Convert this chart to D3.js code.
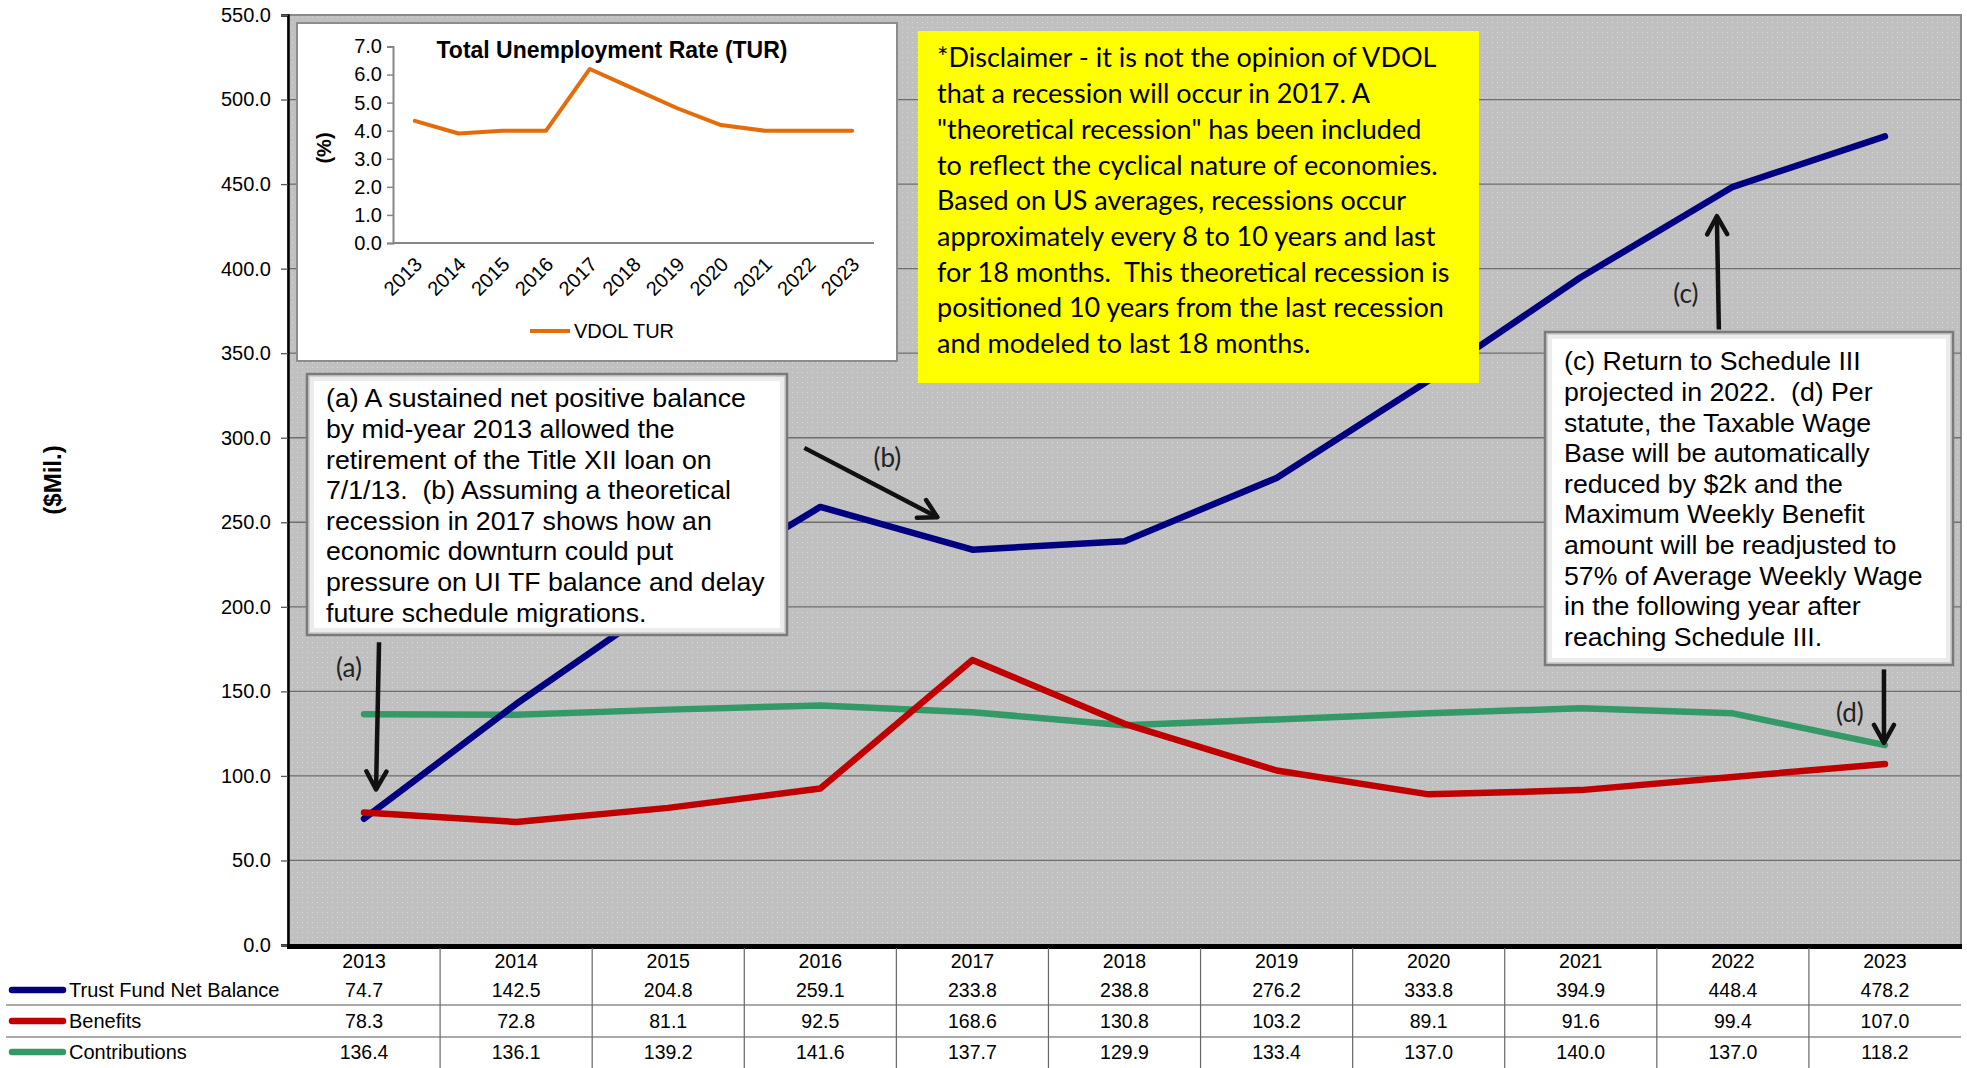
<!DOCTYPE html>
<html>
<head>
<meta charset="utf-8">
<script src="https://cdn.jsdelivr.net/npm/d3@7"></script>
<style>
  body { margin: 0; background: #fff; }
  svg text { font-family: "Liberation Sans", Arial, sans-serif; }
</style>
</head>
<body>
<div class="svg-container"></div>
<script>
// data
var years = ["2013","2014","2015","2016","2017","2018","2019","2020","2021","2022","2023"];
var trustFund = [74.7, 142.5, 204.8, 259.1, 233.8, 238.8, 276.2, 333.8, 394.9, 448.4, 478.2];
var benefits = [78.3, 72.8, 81.1, 92.5, 168.6, 130.8, 103.2, 89.1, 91.6, 99.4, 107.0];
var contributions = [136.4, 136.1, 139.2, 141.6, 137.7, 129.9, 133.4, 137.0, 140.0, 137.0, 118.2];
var turValues = [4.35, 3.9, 4.0, 4.0, 6.2, 5.5, 4.8, 4.2, 4.0, 4.0, 4.0];
var yTicks = d3.range(0, 551, 50);
var turTicks = d3.range(0, 7.1, 1);

var seriesNames = ["Trust Fund Net Balance", "Benefits", "Contributions"];
var seriesColors = ["#000080", "#C00000", "#339966"];

var disclaimerLines = [
  "*Disclaimer - it is not the opinion of VDOL",
  "that a recession will occur in 2017. A",
  "\"theoretical recession\" has been included",
  "to reflect the cyclical nature of economies.",
  "Based on US averages, recessions occur",
  "approximately every 8 to 10 years and last",
  "for 18 months.  This theoretical recession is",
  "positioned 10 years from the last recession",
  "and modeled to last 18 months."
];
var noteALines = [
  "(a) A sustained net positive balance",
  "by mid-year 2013 allowed the",
  "retirement of the Title XII loan on",
  "7/1/13.  (b) Assuming a theoretical",
  "recession in 2017 shows how an",
  "economic downturn could put",
  "pressure on UI TF balance and delay",
  "future schedule migrations."
];
var noteCLines = [
  "(c) Return to Schedule III",
  "projected in 2022.  (d) Per",
  "statute, the Taxable Wage",
  "Base will be automatically",
  "reduced by $2k and the",
  "Maximum Weekly Benefit",
  "amount will be readjusted to",
  "57% of Average Weekly Wage",
  "in the following year after",
  "reaching Schedule III."
];

var width = 1967, height = 1068;
var plotLeft = 288, plotRight = 1961, plotTop = 15, plotBottom = 945;

var svg = d3.select(".svg-container").append("svg")
  .attr("width", width)
  .attr("height", height);

var defs = svg.append("defs");
var pat = defs.append("pattern")
  .attr("id", "dots")
  .attr("width", 5).attr("height", 5)
  .attr("patternUnits", "userSpaceOnUse");
pat.append("rect").attr("width", 5).attr("height", 5).attr("fill", "#c0c0c0");
pat.append("rect").attr("x", 2).attr("y", 2).attr("width", 1).attr("height", 1).attr("fill", "#dadada");

defs.append("marker")
  .attr("id", "head")
  .attr("viewBox", "0 0 26 26")
  .attr("refX", 23).attr("refY", 13)
  .attr("markerWidth", 26).attr("markerHeight", 26)
  .attr("markerUnits", "userSpaceOnUse")
  .attr("orient", "auto")
  .append("path")
  .attr("d", "M5,3 L23,13 L5,23")
  .attr("fill", "none")
  .attr("stroke", "#111")
  .attr("stroke-width", 4.5)
  .attr("stroke-linecap", "round")
  .attr("stroke-linejoin", "round");

// scales
var x = d3.scaleBand().domain(years).range([plotLeft, plotRight]);
var xc = function(yr) { return x(yr) + x.bandwidth() / 2; };
var y = d3.scaleLinear().domain([0, 550]).range([plotBottom, plotTop]);

// plot background
svg.append("rect")
  .attr("x", plotLeft).attr("y", plotTop)
  .attr("width", plotRight - plotLeft).attr("height", plotBottom - plotTop)
  .attr("fill", "url(#dots)")
  .attr("stroke", "#8a8a8a")
  .attr("stroke-width", 2);

// gridlines
svg.append("g")
  .selectAll("line")
  .data(yTicks.filter(function(d) { return d > 0 && d < 550; }))
  .enter().append("line")
  .attr("x1", plotLeft).attr("x2", plotRight)
  .attr("y1", function(d) { return y(d); })
  .attr("y2", function(d) { return y(d); })
  .attr("stroke", "#6e6e6e")
  .attr("stroke-width", 1.3);

// Y axis
var yAxis = svg.append("g")
  .attr("transform", "translate(" + plotLeft + ",0)")
  .call(d3.axisLeft(y).tickValues(yTicks).tickFormat(d3.format(".1f")).tickSize(7).tickPadding(10));
yAxis.select(".domain").attr("stroke", "#000").attr("stroke-width", 2.5);
yAxis.selectAll(".tick line").attr("stroke", "#555").attr("stroke-width", 1.3);
yAxis.selectAll("text")
  .style("font-family", "Liberation Sans, Arial, sans-serif")
  .style("font-size", "20px")
  .attr("fill", "#000");

// Y axis label
svg.append("text")
  .attr("transform", "translate(53," + ((plotTop + plotBottom) / 2) + ") rotate(-90)")
  .style("text-anchor", "middle")
  .style("font-size", "24px")
  .style("font-weight", "bold")
  .attr("dy", "0.35em")
  .text("($Mil.)");

// lines (green, blue, red order)
var line = d3.line()
  .x(function(d, i) { return xc(years[i]); })
  .y(function(d) { return y(d); });

var seriesData = [trustFund, benefits, contributions];
[2, 0, 1].forEach(function(k) {
  svg.append("path")
    .datum(seriesData[k])
    .attr("d", line)
    .attr("fill", "none")
    .attr("stroke", seriesColors[k])
    .attr("stroke-width", 6.5)
    .attr("stroke-linecap", "round")
    .attr("stroke-linejoin", "round");
});

// bottom axis thick line
svg.append("line")
  .attr("x1", plotLeft - 1).attr("x2", plotRight + 1)
  .attr("y1", plotBottom + 1.5).attr("y2", plotBottom + 1.5)
  .attr("stroke", "#000")
  .attr("stroke-width", 5);

// data table
var rowY = [961, 990, 1021, 1052];
var sepY = [1005, 1037];

svg.append("g").selectAll("line")
  .data(sepY)
  .enter().append("line")
  .attr("x1", 6).attr("x2", plotRight)
  .attr("y1", function(d) { return d; })
  .attr("y2", function(d) { return d; })
  .attr("stroke", "#8c8c8c")
  .attr("stroke-width", 1.5);

svg.append("g").selectAll("line")
  .data(years.slice(1))
  .enter().append("line")
  .attr("x1", function(d) { return x(d); })
  .attr("x2", function(d) { return x(d); })
  .attr("y1", plotBottom + 3).attr("y2", height)
  .attr("stroke", "#666")
  .attr("stroke-width", 1.2);

svg.append("g").selectAll("text")
  .data(years)
  .enter().append("text")
  .attr("x", function(d) { return xc(d); })
  .attr("y", rowY[0])
  .attr("dy", "0.35em")
  .style("text-anchor", "middle")
  .style("font-size", "19.5px")
  .text(function(d) { return d; });

seriesData.forEach(function(vals, k) {
  svg.append("g").selectAll("text")
    .data(vals)
    .enter().append("text")
    .attr("x", function(d, i) { return xc(years[i]); })
    .attr("y", rowY[k + 1])
    .attr("dy", "0.35em")
    .style("text-anchor", "middle")
    .style("font-size", "19.5px")
    .text(function(d) { return d3.format(".1f")(d); });

  svg.append("line")
    .attr("x1", 12).attr("x2", 63)
    .attr("y1", rowY[k + 1]).attr("y2", rowY[k + 1])
    .attr("stroke", seriesColors[k])
    .attr("stroke-width", 6.5)
    .attr("stroke-linecap", "round");

  svg.append("text")
    .attr("x", 69)
    .attr("y", rowY[k + 1])
    .attr("dy", "0.35em")
    .style("font-size", "20px")
    .text(seriesNames[k]);
});

// inset chart : Total Unemployment Rate
var inset = svg.append("g");
inset.append("rect")
  .attr("x", 297).attr("y", 23)
  .attr("width", 600).attr("height", 338)
  .attr("fill", "#fff")
  .attr("stroke", "#8c8c8c")
  .attr("stroke-width", 2);

var ix = d3.scaleBand().domain(years).range([393, 874]);
var ixc = function(yr) { return ix(yr) + ix.bandwidth() / 2; };
var iy = d3.scaleLinear().domain([0, 7]).range([243, 46.5]);

var iyAxis = inset.append("g")
  .attr("transform", "translate(393,0)")
  .call(d3.axisLeft(iy).tickValues(turTicks).tickFormat(d3.format(".1f")).tickSize(6).tickPadding(5));
iyAxis.select(".domain").attr("stroke", "#868686").attr("stroke-width", 2);
iyAxis.selectAll(".tick line").attr("stroke", "#868686").attr("stroke-width", 1.5);
iyAxis.selectAll("text")
  .style("font-family", "Liberation Sans, Arial, sans-serif")
  .style("font-size", "20px")
  .attr("fill", "#000");

inset.append("line")
  .attr("x1", 393).attr("x2", 874)
  .attr("y1", iy(0)).attr("y2", iy(0))
  .attr("stroke", "#868686")
  .attr("stroke-width", 2);

inset.append("g").selectAll("text")
  .data(years)
  .enter().append("text")
  .attr("transform", function(d) { return "translate(" + (ixc(d) - 2) + "," + (iy(0) + 12) + ") rotate(-45)"; })
  .attr("dy", "0.75em")
  .style("text-anchor", "end")
  .style("font-size", "20px")
  .text(function(d) { return d; });

inset.append("path")
  .datum(turValues)
  .attr("d", d3.line()
    .x(function(d, i) { return ixc(years[i]); })
    .y(function(d) { return iy(d); }))
  .attr("fill", "none")
  .attr("stroke", "#E46C0A")
  .attr("stroke-width", 4)
  .attr("stroke-linecap", "round")
  .attr("stroke-linejoin", "round");

inset.append("text")
  .attr("x", 612).attr("y", 50)
  .attr("dy", "0.35em")
  .style("text-anchor", "middle")
  .style("font-size", "23px")
  .style("font-weight", "bold")
  .text("Total Unemployment Rate (TUR)");

inset.append("text")
  .attr("transform", "translate(324,148) rotate(-90)")
  .attr("dy", "0.35em")
  .style("text-anchor", "middle")
  .style("font-size", "20px")
  .style("font-weight", "bold")
  .text("(%)");

inset.append("line")
  .attr("x1", 530).attr("x2", 570)
  .attr("y1", 331).attr("y2", 331)
  .attr("stroke", "#E46C0A")
  .attr("stroke-width", 4);
inset.append("text")
  .attr("x", 574).attr("y", 331)
  .attr("dy", "0.35em")
  .style("font-size", "20px")
  .text("VDOL TUR");

// yellow disclaimer
svg.append("rect")
  .attr("x", 918).attr("y", 31)
  .attr("width", 561).attr("height", 352)
  .attr("fill", "#FFFF00");
svg.append("g").selectAll("text")
  .data(disclaimerLines)
  .enter().append("text")
  .attr("x", 937)
  .attr("y", function(d, i) { return 58 + i * 35.7; })
  .attr("dy", "0.35em")
  .style("font-family", "Lato, 'Open Sans', sans-serif")
  .style("font-size", "27px")
  .style("white-space", "pre")
  .text(function(d) { return d; });

// beveled note boxes
function noteBox(x0, y0, w, h, lines, tx, ty) {
  var g = svg.append("g");
  g.append("rect")
    .attr("x", x0).attr("y", y0).attr("width", w).attr("height", h)
    .attr("fill", "#cfcfcf")
    .attr("stroke", "#7a7a7a")
    .attr("stroke-width", 2.5);
  g.append("rect")
    .attr("x", x0 + 3).attr("y", y0 + 3).attr("width", w - 6).attr("height", h - 6)
    .attr("fill", "#ececec");
  g.append("rect")
    .attr("x", x0 + 7).attr("y", y0 + 7).attr("width", w - 14).attr("height", h - 14)
    .attr("fill", "#fff");
  g.selectAll("text.note")
    .data(lines)
    .enter().append("text")
    .attr("class", "note")
    .attr("x", tx)
    .attr("y", function(d, i) { return ty + i * 30.6; })
    .attr("dy", "0.35em")
    .style("font-size", "26.7px")
    .style("white-space", "pre")
    .text(function(d) { return d; });
}
noteBox(307, 374, 480, 261, noteALines, 326, 398);
noteBox(1545, 332, 408, 333, noteCLines, 1564, 361);

// arrows and labels
var arrows = [
  { from: ["2013", 15, 179], to: ["2013", 12, 92], label: "(a)", at: ["2013", -15, 164] },
  { from: ["2016", -16, 294], to: ["2017", -35, 253], label: "(b)", at: ["2016", 67, 288] },
  { from: ["2022", -14, 364], to: ["2022", -16, 431], label: "(c)", at: ["2022", -47, 385] },
  { from: ["2023", -1, 163], to: ["2023", -1, 119.5], label: "(d)", at: ["2023", -35, 137] }
];
arrows.forEach(function(a) {
  svg.append("line")
    .attr("x1", xc(a.from[0]) + a.from[1]).attr("y1", y(a.from[2]))
    .attr("x2", xc(a.to[0]) + a.to[1]).attr("y2", y(a.to[2]))
    .attr("stroke", "#111")
    .attr("stroke-width", 4.5)
    .attr("marker-end", "url(#head)");
  svg.append("text")
    .attr("x", xc(a.at[0]) + a.at[1])
    .attr("y", y(a.at[2]))
    .attr("dy", "0.35em")
    .style("text-anchor", "middle")
    .style("font-family", "Lato, 'Open Sans', sans-serif")
    .style("font-size", "26px")
    .attr("fill", "#222")
    .text(a.label);
});
</script>
</body>
</html>
